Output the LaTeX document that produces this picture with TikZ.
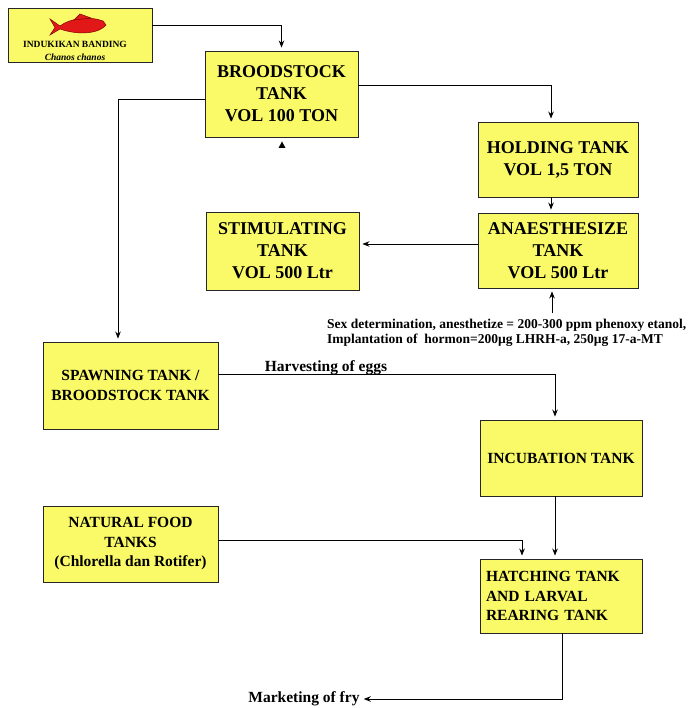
\documentclass[tikz,border=0pt]{standalone}
\usepackage{fontspec}
\setmainfont{Liberation Serif}
\usetikzlibrary{arrows.meta}

\definecolor{tankyellow}{RGB}{250,250,104}
\definecolor{fishred}{RGB}{226,24,24}

\tikzset{
  tank/.style={draw=black!85, fill=tankyellow, line width=0.9pt, align=center,
    font=\bfseries\fontsize{18}{22}\selectfont, inner sep=2pt},
  lowtank/.style={tank, font=\bfseries\fontsize{15.5}{19.5}\selectfont},
  note/.style={font=\bfseries\fontsize{15.5}{18}\selectfont, inner sep=1pt},
  flow/.style={-{Stealth[length=7pt,width=5.5pt]}, line width=0.8pt, shorten >=3pt}
}

\begin{document}
\begin{tikzpicture}[x=1pt, y=-1pt]
      \useasboundingbox (0,0) rectangle (690,708);

      % Draw the tanks
      \node[tank, minimum width=144, minimum height=54] (induk) at (80,35) {};
      \node[tank, minimum width=153, minimum height=86] (brood) at (281.5,94)
        {BROODSTOCK\\TANK\\VOL 100 TON};
      \node[tank, minimum width=160, minimum height=75] (hold) at (558,159.5)
        {HOLDING TANK\\VOL 1,5 TON};
      \node[tank, minimum width=160, minimum height=75] (anaes) at (558,250.5)
        {ANAESTHESIZE\\TANK\\VOL 500 Ltr};
      \node[tank, minimum width=153, minimum height=78] (stim) at (282.5,251)
        {STIMULATING\\TANK\\VOL 500 Ltr};
      \node[lowtank, minimum width=175, minimum height=87] (spawn) at (130.5,385.5)
        {SPAWNING TANK /\\BROODSTOCK TANK};
      \node[lowtank, minimum width=162, minimum height=76] (incub) at (561,458)
        {INCUBATION TANK};
      \node[lowtank, minimum width=175, minimum height=76] (food) at (130.5,544)
        {NATURAL FOOD\\TANKS\\(Chlorella dan Rotifer)};
      \node[lowtank, text width=150, align=left, inner xsep=6pt, minimum height=74]
        (hatch) at (561,596) {HATCHING TANK\\AND LARVAL\\REARING TANK};

      % Draw the fish and its name
      \filldraw[fill=fishred, draw=red!50!black, line width=0.5pt]
        (60,26) .. controls (70,18) and (90,16) .. (103,21) -- (106,25)
        .. controls (100,33) and (80,36) .. (60,29) -- (50,35) -- (55,27.5)
        -- (50,19) -- cycle;
      \filldraw[fill=fishred, draw=red!50!black, line width=0.5pt]
        (74,20) -- (80,14) -- (91,18) -- cycle;
      \node[font=\bfseries\fontsize{9.5}{11}\selectfont, inner sep=0] (induklabel)
        at (75,44) {INDUKIKAN BANDING};
      \node[font=\bfseries\itshape\fontsize{9.5}{11}\selectfont, inner sep=0] (induksp)
        at (75,57) {Chanos chanos};

      % Draw the notes
      \node[note] (harvest) at (326,368) {Harvesting of eggs};
      \node[note] (market) at (304,699) {Marketing of fry};
      \node[font=\bfseries\fontsize{13.5}{15}\selectfont, align=left, inner sep=0,
        anchor=west] (hormone) at (327,332.5)
        {Sex determination, anesthetize = 200-300 ppm phenoxy etanol,\\
         Implantation of\ \ hormon=200µg LHRH-a, 250µg 17-a-MT};
      \coordinate (hormtop) at (552,313);

      % Draw the connectors
      \draw[flow] ([yshift=10pt]induk.east) -| (brood.north);
      \draw[flow] ([yshift=9pt]brood.east) -| ([xshift=-7pt]hold.north);
      \draw[flow] ([xshift=-7pt]hold.south) -- ([xshift=-7pt]anaes.north);
      \draw[flow] ([yshift=6.5pt]anaes.west) -- ([yshift=6.5pt]anaes.west -| stim.east);
      \draw[flow] (hormtop) -- (anaes.south -| hormtop);
      \draw[flow] ([yshift=-5pt]brood.west) -| ([xshift=-12.5pt]spawn.north);
      \draw[flow] ([yshift=11.5pt]spawn.east) -| ([xshift=-6pt]incub.north);
      \draw[flow] ([xshift=-6pt]incub.south) -- ([xshift=-6pt]hatch.north);
      \draw[flow] ([yshift=4pt]food.east) -| ([xshift=-39pt]hatch.north);
      \draw[flow] ([xshift=1pt]hatch.south) |- (market.east);

      % Draw the loose arrow tip below the broodstock tank
      \fill (278.5,148) -- (285.5,148) -- (282,141.5) -- cycle;
\end{tikzpicture}
\end{document}
